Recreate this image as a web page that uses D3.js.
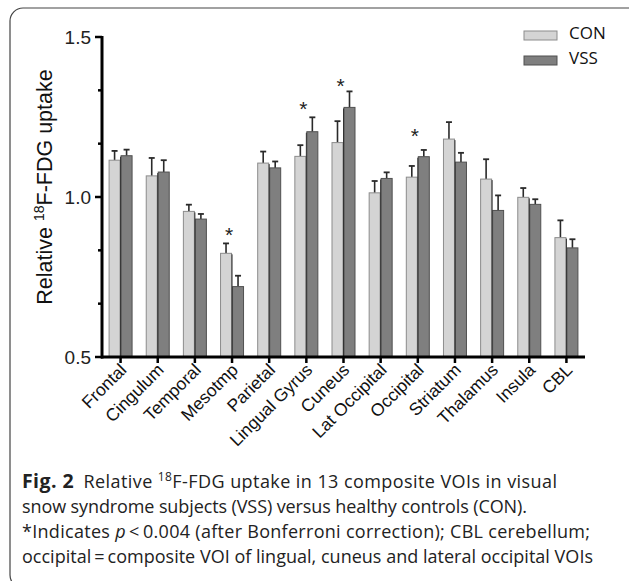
<!DOCTYPE html>
<html>
<head>
<meta charset="utf-8">
<script src="https://cdn.jsdelivr.net/npm/d3@7"></script>
<style>
  body { margin: 0; background: #fff; }
  svg { display: block; }
</style>
</head>
<body>
<svg id="chart" width="629" height="581"></svg>
<script>
const categories = ["Frontal", "Cingulum", "Temporal", "Mesotmp", "Parietal", "Lingual Gyrus",
    "Cuneus", "Lat Occipital", "Occipital", "Striatum", "Thalamus", "Insula", "CBL"];
const groups = ["CON", "VSS"];
const conMean = [1.115, 1.066, 0.955, 0.824, 1.106, 1.127, 1.170, 1.013, 1.062, 1.181, 1.056, 0.999, 0.873];
const conErr = [0.029, 0.056, 0.021, 0.031, 0.036, 0.035, 0.067, 0.037, 0.035, 0.053, 0.062, 0.029, 0.054];
const vssMean = [1.129, 1.078, 0.931, 0.720, 1.091, 1.204, 1.280, 1.058, 1.126, 1.109, 0.958, 0.977, 0.841];
const vssErr = [0.019, 0.037, 0.016, 0.034, 0.020, 0.045, 0.050, 0.019, 0.021, 0.029, 0.047, 0.016, 0.027];
// stars (p < 0.004) and the height they sit at
const sigCategories = ["Mesotmp", "Lingual Gyrus", "Cuneus", "Occipital"];
const sigLevel = [0.89, 1.285, 1.355, 1.2];
const yTicks = [0.5, 1.0, 1.5];
const yMinor = [0.5 + 1 / 6, 0.5 + 2 / 6, 1 + 1 / 6, 1 + 2 / 6];

const svg = d3.select("#chart");
const colors = {CON: "#d4d4d4", VSS: "#7f7f7f"};
const strokes = {CON: "#8c8c8c", VSS: "#505050"};

// frame round figure
svg.append("rect")
    .attr("x", 10).attr("y", 8)
    .attr("width", 660).attr("height", 580)
    .attr("rx", 13)
    .attr("fill", "none")
    .attr("stroke", "#444")
    .attr("stroke-width", 1.2);

const x = d3.scaleBand().domain(categories).range([102, 585]);
const y = d3.scaleLinear().domain([0.5, 1.5]).range([357, 37]);
const sub = d3.scaleBand().domain(groups).range([0, 24]);

const rows = categories.map((c, i) => ({
    cat: c,
    vals: [
        {g: "CON", m: conMean[i], e: conErr[i]},
        {g: "VSS", m: vssMean[i], e: vssErr[i]}
    ]
}));

const g = svg.selectAll("g.grp")
    .data(rows)
    .enter().append("g")
    .attr("class", "grp")
    .attr("transform", d => `translate(${x(d.cat) + (x.bandwidth() - 24) / 2},0)`);

// error bars first (upper only), bars go over them
g.selectAll("g.err")
    .data(d => d.vals)
    .enter().append("g")
    .attr("class", "err")
    .each(function (d) {
        const cx = sub(d.g) + sub.bandwidth() / 2;
        const sel = d3.select(this);
        sel.append("line")
            .attr("x1", cx).attr("x2", cx)
            .attr("y1", y(d.m)).attr("y2", y(d.m + d.e))
            .attr("stroke", "#2a2a2a").attr("stroke-width", 1.6);
        sel.append("line")
            .attr("x1", cx - 3).attr("x2", cx + 3)
            .attr("y1", y(d.m + d.e)).attr("y2", y(d.m + d.e))
            .attr("stroke", "#2a2a2a").attr("stroke-width", 1.8);
    });

g.selectAll("rect")
    .data(d => d.vals)
    .enter().append("rect")
    .attr("x", d => sub(d.g) + 0.5)
    .attr("width", sub.bandwidth() - 1)
    .attr("y", d => y(d.m))
    .attr("height", d => y(0.5) - y(d.m))
    .attr("fill", d => colors[d.g])
    .attr("stroke", d => strokes[d.g])
    .attr("stroke-width", 1);

// dark seam between the pair
g.append("line")
    .attr("x1", 12).attr("x2", 12)
    .attr("y1", d => y(Math.max(d.vals[0].m, d.vals[1].m)) + 1)
    .attr("y2", y(0.5))
    .attr("stroke", "#333").attr("stroke-width", 1);

// stars
svg.selectAll("text.star")
    .data(sigCategories)
    .enter().append("text")
    .attr("class", "star")
    .attr("x", d => x(d) + x.bandwidth() / 2 - 3)
    .attr("y", (d, i) => y(sigLevel[i]) + 10)
    .attr("text-anchor", "middle")
    .attr("font-family", "Liberation Sans, Arial, sans-serif")
    .attr("font-size", 21)
    .attr("fill", "#222")
    .text("*");

// axes
const axisCol = "#000";
svg.append("line")
    .attr("x1", 102).attr("x2", 102)
    .attr("y1", y(1.5) - 1).attr("y2", y(0.5) + 1.5)
    .attr("stroke", axisCol).attr("stroke-width", 3);
svg.append("line")
    .attr("x1", 101).attr("x2", 585)
    .attr("y1", y(0.5)).attr("y2", y(0.5))
    .attr("stroke", axisCol).attr("stroke-width", 3);

svg.selectAll("line.ytick")
    .data(yTicks)
    .enter().append("line")
    .attr("class", "ytick")
    .attr("x1", 95).attr("x2", 102)
    .attr("y1", d => y(d)).attr("y2", d => y(d))
    .attr("stroke", axisCol).attr("stroke-width", 2.5);
svg.selectAll("line.yminor")
    .data(yMinor)
    .enter().append("line")
    .attr("class", "yminor")
    .attr("x1", 98).attr("x2", 102)
    .attr("y1", d => y(d)).attr("y2", d => y(d))
    .attr("stroke", axisCol).attr("stroke-width", 2.5);
svg.selectAll("text.ylab")
    .data(yTicks)
    .enter().append("text")
    .attr("class", "ylab")
    .attr("x", 91)
    .attr("y", d => y(d) + 7)
    .attr("text-anchor", "end")
    .attr("font-family", "Liberation Sans, Arial, sans-serif")
    .attr("font-size", 19)
    .attr("fill", "#222")
    .text(d => d3.format(".1f")(d));

svg.selectAll("line.xtick")
    .data(categories)
    .enter().append("line")
    .attr("class", "xtick")
    .attr("x1", d => x(d) + x.bandwidth() / 2)
    .attr("x2", d => x(d) + x.bandwidth() / 2)
    .attr("y1", y(0.5)).attr("y2", y(0.5) + 6)
    .attr("stroke", axisCol).attr("stroke-width", 2.5);

svg.selectAll("text.xlab")
    .data(categories)
    .enter().append("text")
    .attr("class", "xlab")
    .attr("transform", d => `translate(${x(d) + x.bandwidth() / 2 + 7},${y(0.5) + 14}) rotate(-45)`)
    .attr("text-anchor", "end")
    .attr("font-family", "Liberation Sans, Arial, sans-serif")
    .attr("font-size", 17.5)
    .attr("fill", "#111")
    .text(d => d);

// y title
const yt = svg.append("text")
    .attr("transform", "translate(52,187) rotate(-90)")
    .attr("text-anchor", "middle")
    .attr("font-family", "Liberation Sans, Arial, sans-serif")
    .attr("font-size", 21.5)
    .attr("fill", "#111");
yt.append("tspan").text("Relative ");
yt.append("tspan").attr("font-size", 14).attr("dy", -8).text("18");
yt.append("tspan").attr("dy", 8).text("F-FDG uptake");

// legend
const leg = svg.selectAll("g.leg")
    .data(groups)
    .enter().append("g")
    .attr("class", "leg")
    .attr("transform", (d, i) => `translate(524,${31 + i * 25})`);
leg.append("rect")
    .attr("width", 33).attr("height", 9)
    .attr("fill", d => colors[d])
    .attr("stroke", d => strokes[d]);
leg.append("text")
    .attr("x", 45).attr("y", 8)
    .attr("font-family", "Open Sans, sans-serif")
    .attr("font-size", 17)
    .attr("fill", "#111")
    .text(d => d);

// caption
const capFont = "Open Sans, Noto Sans, sans-serif";
const cap = svg.append("g")
    .attr("font-family", capFont)
    .attr("font-size", 18)
    .attr("fill", "#222");
const l1 = cap.append("text").attr("x", 22).attr("y", 488)
    .attr("textLength", 535);
l1.append("tspan").attr("font-weight", "bold").attr("font-size", 19.5).text("Fig. 2");
l1.append("tspan").text("\u2002Relative ");
l1.append("tspan").attr("font-size", 12).attr("dy", -7).text("18");
l1.append("tspan").attr("dy", 7).text("F-FDG uptake in 13 composite VOIs in visual");
cap.append("text").attr("x", 22).attr("y", 513)
    .attr("textLength", 505)
    .text("snow syndrome subjects (VSS) versus healthy controls (CON).");
const l3 = cap.append("text").attr("x", 22).attr("y", 538)
    .attr("textLength", 568);
l3.append("tspan").text("*Indicates ");
l3.append("tspan").attr("font-style", "italic").text("p");
l3.append("tspan").text("\u2009<\u20090.004 (after Bonferroni correction); CBL cerebellum;");
cap.append("text").attr("x", 22).attr("y", 563)
    .attr("textLength", 571)
    .text("occipital\u2009=\u2009composite VOI of lingual, cuneus and lateral occipital VOIs");
</script>
</body>
</html>
